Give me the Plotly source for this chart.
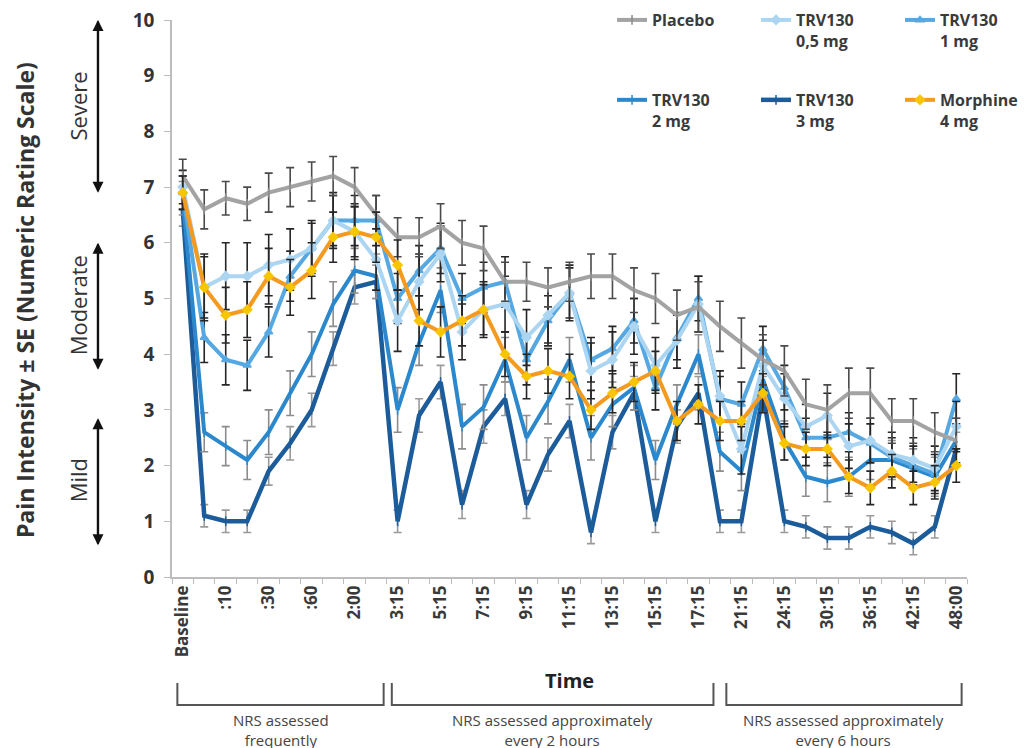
import plotly.graph_objects as go

# ---------------- data ----------------
time_labels = ["Baseline", "", ":10", "", ":30", "", ":60", "", "2:00", "", "3:15", "", "5:15", "",
               "7:15", "", "9:15", "", "11:15", "", "13:15", "", "15:15", "", "17:15", "", "21:15", "",
               "24:15", "", "30:15", "", "36:15", "", "42:15", "", "48:00"]

placebo = [7.2, 6.6, 6.8, 6.7, 6.9, 7.0, 7.1, 7.2, 7.0, 6.5, 6.1, 6.1, 6.3, 6.0, 5.9, 5.3, 5.3, 5.2, 5.3,
           5.4, 5.4, 5.15, 5.0, 4.7, 4.85, 4.5, 4.2, 3.9, 3.7, 3.1, 3.0, 3.3, 3.3, 2.8, 2.8, 2.6, 2.45]
trv05 = [7.0, 5.2, 5.4, 5.4, 5.6, 5.7, 5.9, 6.4, 6.2, 5.7, 4.6, 5.3, 5.8, 4.4, 4.8, 4.9, 4.3, 4.7, 5.1,
         3.7, 3.9, 4.5, 3.8, 4.25, 4.9, 3.25, 2.3, 3.8, 3.2, 2.7, 2.9, 2.35, 2.45, 2.2, 2.1, 1.95, 2.7]
trv1 = [6.9, 4.3, 3.9, 3.8, 4.4, 5.4, 5.9, 6.4, 6.4, 6.4, 5.0, 5.5, 5.9, 5.0, 5.2, 5.3, 3.9, 4.6, 5.1,
        3.9, 4.1, 4.6, 3.4, 4.3, 5.0, 3.2, 3.1, 4.1, 3.4, 2.5, 2.5, 2.6, 2.4, 2.15, 2.0, 1.85, 3.2]
trv2 = [6.8, 2.6, 2.35, 2.1, 2.6, 3.3, 4.0, 4.9, 5.5, 5.4, 3.0, 4.2, 5.15, 2.7, 3.05, 3.9, 2.5, 3.15, 3.9,
        2.5, 3.1, 3.4, 2.1, 3.1, 4.0, 2.25, 1.9, 3.55, 2.45, 1.8, 1.7, 1.8, 2.1, 2.1, 1.95, 1.8, 2.45]
trv3 = [6.6, 1.1, 1.0, 1.0, 1.9, 2.4, 3.0, 4.1, 5.2, 5.3, 1.0, 2.9, 3.5, 1.3, 2.7, 3.2, 1.3, 2.2, 2.8,
        0.8, 2.6, 3.3, 1.0, 2.7, 3.3, 1.0, 1.0, 3.3, 1.0, 0.9, 0.7, 0.7, 0.9, 0.8, 0.6, 0.9, 2.3]
morphine = [6.9, 5.2, 4.7, 4.8, 5.4, 5.2, 5.5, 6.1, 6.2, 6.1, 5.6, 4.6, 4.4, 4.6, 4.8, 4.0, 3.6, 3.7, 3.6,
            3.0, 3.3, 3.5, 3.7, 2.8, 3.1, 2.8, 2.8, 3.3, 2.4, 2.3, 2.3, 1.8, 1.6, 1.9, 1.6, 1.7, 2.0]

placebo_se = [0.3, 0.35, 0.3, 0.3, 0.35, 0.35, 0.35, 0.35, 0.35, 0.35, 0.35, 0.35, 0.4, 0.4, 0.4, 0.35,
              0.35, 0.35, 0.35, 0.4, 0.4, 0.4, 0.45, 0.45, 0.45, 0.45, 0.45, 0.45, 0.45, 0.45, 0.45,
              0.45, 0.45, 0.4, 0.4, 0.35, 0.4]
trv05_se = [0.3, 0.6, 0.6, 0.6, 0.55, 0.55, 0.5, 0.5, 0.5, 0.55, 0.55, 0.5, 0.5, 0.5, 0.5, 0.5, 0.5,
            0.5, 0.5, 0.5, 0.5, 0.5, 0.5, 0.5, 0.5, 0.45, 0.45, 0.45, 0.45, 0.4, 0.4, 0.4, 0.4, 0.4,
            0.4, 0.4, 0.45]
trv1_se = [0.3, 0.45, 0.45, 0.45, 0.45, 0.45, 0.45, 0.45, 0.45, 0.45, 0.45, 0.45, 0.45, 0.45, 0.45,
           0.45, 0.45, 0.45, 0.45, 0.4, 0.4, 0.4, 0.4, 0.4, 0.4, 0.4, 0.4, 0.4, 0.4, 0.35, 0.35, 0.35,
           0.35, 0.35, 0.35, 0.35, 0.45]
trv2_se = [0.3, 0.35, 0.35, 0.35, 0.4, 0.4, 0.4, 0.4, 0.4, 0.4, 0.4, 0.4, 0.4, 0.4, 0.4, 0.4, 0.4, 0.4,
           0.4, 0.4, 0.4, 0.4, 0.35, 0.35, 0.35, 0.35, 0.35, 0.35, 0.35, 0.35, 0.35, 0.35, 0.35, 0.35,
           0.35, 0.35, 0.4]
trv3_se = [0.3, 0.2, 0.2, 0.2, 0.25, 0.3, 0.3, 0.3, 0.3, 0.3, 0.2, 0.3, 0.3, 0.25, 0.3, 0.3, 0.25, 0.3,
           0.3, 0.2, 0.3, 0.3, 0.2, 0.3, 0.3, 0.2, 0.2, 0.3, 0.2, 0.2, 0.2, 0.2, 0.2, 0.2, 0.2, 0.2, 0.3]
morphine_se = [0.3, 0.55, 0.5, 0.5, 0.5, 0.5, 0.5, 0.45, 0.45, 0.45, 0.45, 0.45, 0.45, 0.45, 0.45,
               0.4, 0.4, 0.4, 0.4, 0.35, 0.35, 0.35, 0.35, 0.35, 0.35, 0.35, 0.35, 0.35, 0.3, 0.3,
               0.3, 0.3, 0.3, 0.3, 0.3, 0.3, 0.3]

series_names = ["Placebo", "TRV130<br>0,5 mg", "TRV130<br>1 mg", "TRV130<br>2 mg", "TRV130<br>3 mg",
                "Morphine<br>4 mg"]

FONT = "Open Sans"
x = list(range(len(time_labels)))

fig = go.Figure()

series = [
    # name, values, se, line color, marker symbol, marker color, error color, legend, width
    (series_names[4], trv3, trv3_se, "#1d5c9a", "line-ns", "#1d5c9a", "#9a9a9a", "legend5", 4.5),
    (series_names[3], trv2, trv2_se, "#2b88cc", "line-ns", "#2b88cc", "#8c8c8c", "legend4", 4),
    (series_names[2], trv1, trv1_se, "#56a8e2", "triangle-up", "#56a8e2", "#262626", "legend3", 4),
    (series_names[1], trv05, trv05_se, "#acd5f1", "diamond", "#acd5f1", "#262626", "legend2", 4),
    (series_names[0], placebo, placebo_se, "#a3a3a3", "line-ns", "#8a8a8a", "#4a4a4a", "legend", 4),
    (series_names[5], morphine, morphine_se, "#f39a1f", "diamond", "#f7c600", "#262626", "legend6", 4),
]

for name, vals, se, lc, sym, mc, ec, lg, lw in series:
    fig.add_trace(go.Scatter(
        x=x, y=vals, name=name, mode="lines+markers", legend=lg, showlegend=True,
        line=dict(color=lc, width=lw),
        marker=dict(symbol=sym, size=7, color=mc, line=dict(color=mc, width=1.5)),
        error_y=dict(type="data", array=se, visible=True, color=ec, thickness=1.6, width=4),
        cliponaxis=False,
    ))

# legends: 3 columns x 2 rows
leg_common = dict(bgcolor="rgba(0,0,0,0)", font=dict(family=FONT, size=16, color="#3a3a3a", weight="bold"),
                  valign="top", xanchor="left", yanchor="top", itemwidth=30, tracegroupgap=0)
cols = [0.5535, 0.7346, 0.9157]
rows = [1.0305, 0.887]
fig.update_layout(
    showlegend=True,
    legend=dict(x=cols[0], y=rows[0], **leg_common),
    legend2=dict(x=cols[1], y=rows[0], **leg_common),
    legend3=dict(x=cols[2], y=rows[0], **leg_common),
    legend4=dict(x=cols[0], y=rows[1], **leg_common),
    legend5=dict(x=cols[1], y=rows[1], **leg_common),
    legend6=dict(x=cols[2], y=rows[1], **leg_common),
)

tickvals = [i for i, t in enumerate(time_labels) if t]
ticktext = [t for t in time_labels if t]

fig.update_xaxes(
    range=[-0.5, len(time_labels) - 0.5], showline=True, linecolor="#bdbdbd", linewidth=1.5,
    showgrid=False, zeroline=False, tickmode="array", tickvals=tickvals, ticktext=ticktext,
    ticks="", tickangle=-90, tickfont=dict(family=FONT, size=17, color="#3a3a3a", weight="bold"),
    minor=dict(tickmode="linear", tick0=-0.5, dtick=1, ticks="outside", ticklen=5,
               tickcolor="#bdbdbd", showgrid=False),
    automargin=False, ticklabeloverflow="allow",
)
fig.update_yaxes(
    range=[0, 10], showline=True, linecolor="#bdbdbd", linewidth=1.5, showgrid=False, zeroline=False,
    tickmode="linear", tick0=0, dtick=1, ticks="outside", ticklen=6, tickcolor="#bdbdbd",
    tickfont=dict(family=FONT, size=19, color="#333333", weight="bold"), ticklabelstandoff=6,
    automargin=False, ticklabeloverflow="allow",
)

annotations = [
    dict(text="Pain Intensity ± SE (Numeric Rating Scale)", xref="paper", yref="paper", x=-0.185, y=0.497,
         xanchor="center", yanchor="middle", textangle=-90, showarrow=False,
         font=dict(family=FONT, size=23, color="#333", weight="bold")),
    dict(text="Time", xref="x", yref="paper", x=18.0, y=-0.185, xanchor="center", yanchor="middle",
         showarrow=False, font=dict(family=FONT, size=20, color="#222", weight="bold")),
]
# severity labels and arrows
sev = [("Severe", 8.45, 10.0, 6.9), ("Moderate", 4.88, 6.0, 3.72), ("Mild", 1.74, 2.85, 0.57)]
px_per_unit = 55.7
for lab, yc, ytop, ybot in sev:
    annotations.append(dict(text=lab, xref="paper", yref="y", x=-0.118, y=yc, xanchor="center",
                            yanchor="middle", textangle=-90, showarrow=False,
                            font=dict(family=FONT, size=22, color="#333")))
    L = (ytop - ybot) * px_per_unit
    annotations.append(dict(text="", xref="paper", yref="y", x=-0.0931, y=ytop, ax=0, ay=L,
                            showarrow=True, arrowhead=2, arrowsize=1, arrowwidth=2.2, arrowcolor="#111"))
    annotations.append(dict(text="", xref="paper", yref="y", x=-0.0931, y=ybot, ax=0, ay=-L,
                            showarrow=True, arrowhead=2, arrowsize=1, arrowwidth=2.2, arrowcolor="#111"))

brackets = [(-0.25, 9.35, "NRS assessed<br>frequently"),
            (9.73, 24.7, "NRS assessed approximately<br>every 2 hours"),
            (25.3, 36.25, "NRS assessed approximately<br>every 6 hours")]
shapes = []
ytop_b, ybot_b = -0.1903, -0.2298
for x0, x1, txt in brackets:
    shapes.append(dict(type="path", xref="x", yref="paper",
                       path=f"M {x0},{ytop_b} L {x0},{ybot_b} L {x1},{ybot_b} L {x1},{ytop_b}",
                       line=dict(color="#555", width=2)))
    annotations.append(dict(text=txt, xref="x", yref="paper", x=(x0 + x1) / 2, y=-0.2738,
                            xanchor="center", yanchor="middle", showarrow=False,
                            font=dict(family=FONT, size=15, color="#444")))

# the page body adds an 8px offset; compensate so the plot area lands where the reference has it
fig.update_layout(
    width=1019, height=740, autosize=False,
    margin=dict(l=164, r=60, t=12, b=171, autoexpand=False),
    plot_bgcolor="white", paper_bgcolor="white",
    annotations=annotations, shapes=shapes,
    font=dict(family=FONT),
)

fig.write_html("out.html")
